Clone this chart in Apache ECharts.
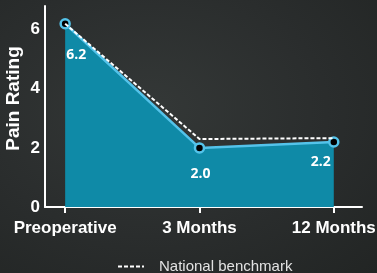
<!DOCTYPE html>
<html>
<head>
<meta charset="utf-8">
<script src="https://cdn.jsdelivr.net/npm/echarts@6/dist/echarts.min.js"></script>
<style>
  html, body { margin: 0; padding: 0; }
  #chart {
    width: 377px;
    height: 273px;
    background: radial-gradient(ellipse at 40% 40%, #343837 0%, #2a2d2d 55%, #222524 100%);
  }
</style>
</head>
<body>
<div id="chart"></div>
<script>
// data
const categories = ['Preoperative', '3 Months', '12 Months']
const painRating = [6.2, 2.0, 2.2]
const nationalBenchmark = [6.2, 2.3, 2.33]
const yTicks = [0, 2, 4, 6]

const chart = echarts.init(document.getElementById('chart'))

const white = '#ffffff'
const labelOffsets = [[11, 31], [1, 26], [-13, 20]]

const option = {
  backgroundColor: 'transparent',
  animation: false,
  grid: { left: 45, right: 15, top: 6, bottom: 66, outerBoundsMode: 'none', containLabel: false },
  legend: {
    data: ['National benchmark'],
    left: 112,
    top: 254,
    itemWidth: 26,
    itemHeight: 10,
    itemStyle: { opacity: 0 },
    textStyle: {
      color: '#e2e2e2',
      fontFamily: 'Liberation Sans',
      fontSize: 15,
      padding: [0, 0, 0, 10]
    }
  },
  xAxis: {
    type: 'value',
    min: -0.15,
    max: 2.21,
    splitLine: { show: false },
    axisLine: { show: true, onZero: false, lineStyle: { color: white, width: 2 } },
    axisTick: {
      show: true,
      length: 6,
      customValues: [0, 1, 2],
      lineStyle: { color: white, width: 2 }
    },
    axisLabel: {
      customValues: [0, 1, 2],
      formatter: v => categories[Math.round(v)],
      color: white,
      fontFamily: 'Liberation Sans',
      fontWeight: 'bold',
      fontSize: 17,
      margin: 13
    }
  },
  yAxis: {
    type: 'value',
    min: 0,
    max: 6.8,
    name: 'Pain Rating',
    nameLocation: 'middle',
    nameGap: 22,
    nameMoveOverlap: false,
    nameTextStyle: {
      color: white,
      fontFamily: 'Liberation Sans',
      fontWeight: 'bold',
      fontSize: 19,
      padding: [0, 0, 0, 16]
    },
    splitLine: { show: false },
    axisLine: { show: true, onZero: false, lineStyle: { color: white, width: 2 } },
    axisTick: { show: false },
    axisLabel: {
      customValues: yTicks,
      color: white,
      fontFamily: 'Liberation Sans',
      fontWeight: 'bold',
      fontSize: 17,
      margin: 5
    }
  },
  series: [
    {
      name: 'Pain rating',
      type: 'line',
      data: painRating.map((v, i) => ({
        value: [i, v],
        label: { offset: labelOffsets[i] }
      })),
      symbol: 'circle',
      symbolSize: 9,
      lineStyle: { color: '#54c3ea', width: 2.5 },
      itemStyle: { color: '#000000', borderColor: '#54c3ea', borderWidth: 2.5 },
      areaStyle: { color: '#0f8aa7', opacity: 1 },
      label: {
        show: true,
        position: 'inside',
        formatter: p => p.value[1].toFixed(1),
        color: white,
        fontFamily: 'Open Sans',
        fontWeight: 'bold',
        fontSize: 14
      },
      z: 2
    },
    {
      name: 'National benchmark',
      type: 'line',
      data: nationalBenchmark.map((v, i) => [i, v]),
      symbol: 'none',
      lineStyle: { color: white, width: 2, type: [4, 2] },
      z: 3
    }
  ]
}

chart.setOption(option)
</script>
</body>
</html>
